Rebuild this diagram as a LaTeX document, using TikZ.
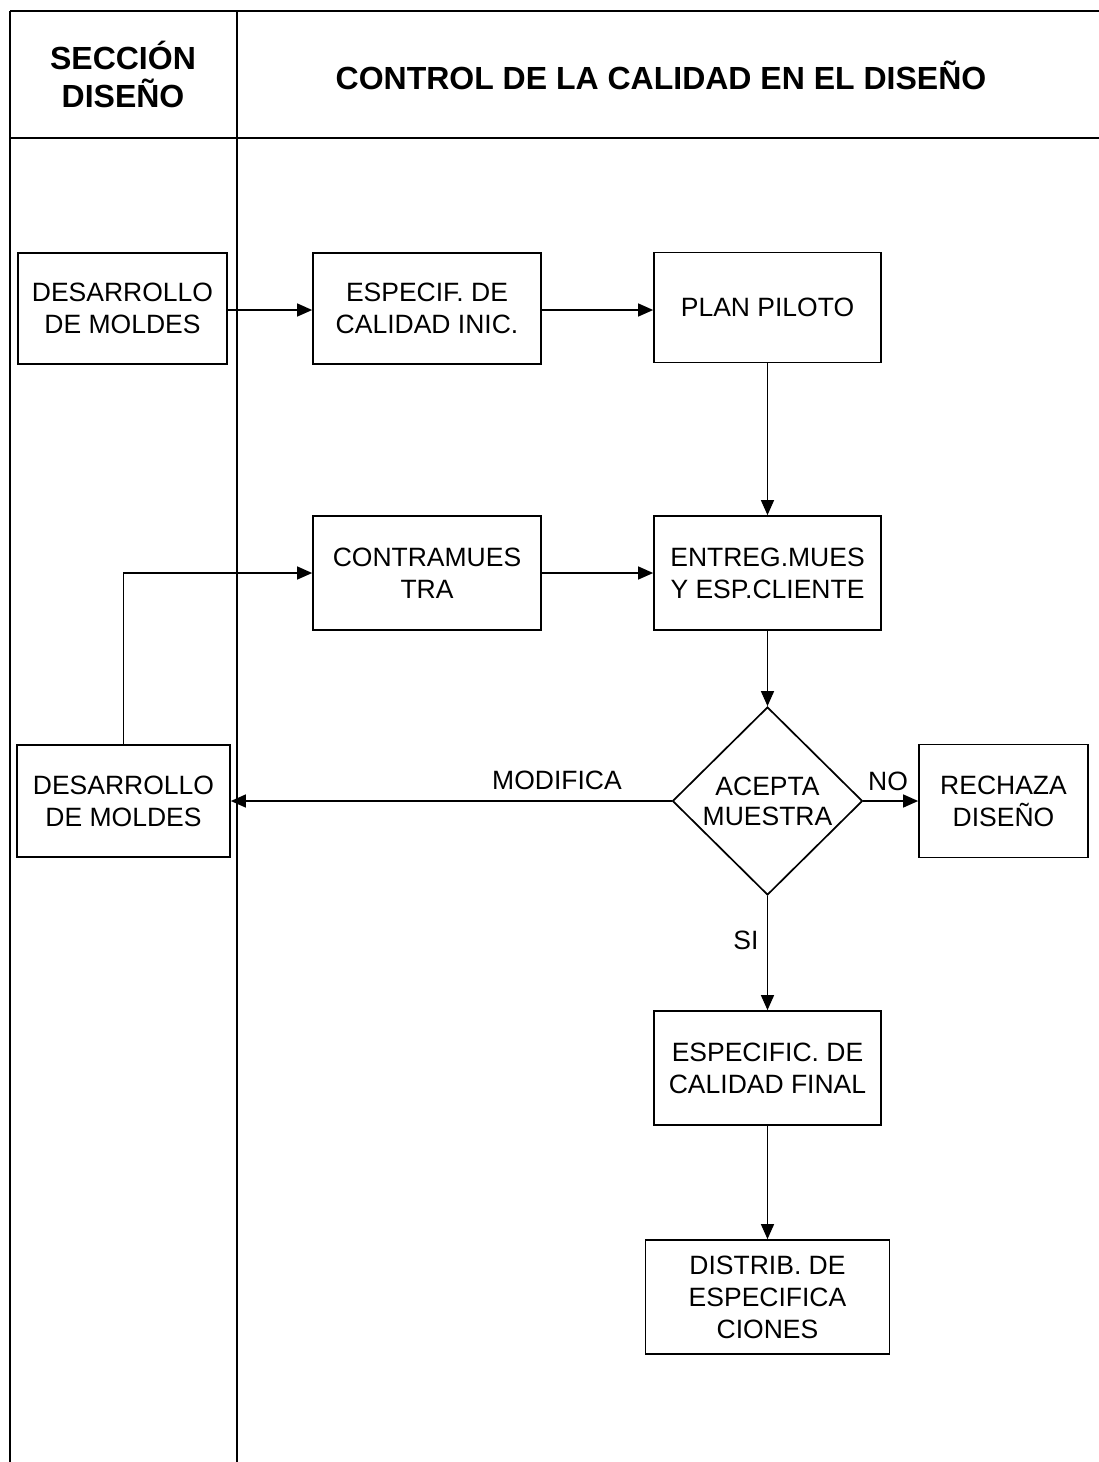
\documentclass[tikz,border=0pt]{standalone}
\usepackage{fontspec}
\setmainfont{Liberation Sans}
\usetikzlibrary{arrows.meta,shapes.geometric}

\begin{document}
\begin{tikzpicture}[x=1pt,y=-1pt,
  frame/.style={line width=1.4pt},
  procbox/.style={draw,line width=1.7pt,align=center,inner sep=0pt,
    font=\fontsize{26.5}{32}\selectfont},
  decision/.style={draw,diamond,line width=1.7pt,align=center,inner sep=0pt,
    minimum width=190pt,minimum height=188pt,font=\fontsize{26.5}{30}\selectfont},
  arr/.style={line width=1.3pt,-{Triangle[length=15pt,width=13pt]}},
  flowlabel/.style={font=\fontsize{26.5}{32}\selectfont,inner sep=0pt},
  headtext/.style={font=\bfseries\fontsize{32}{38}\selectfont,align=center,inner sep=0pt}]

\useasboundingbox (0,0) rectangle (1099,1462);

% frame of the two swimlanes
\coordinate (tl) at (10,11);
\coordinate (tr) at (1099,11);
\coordinate (bl) at (10,1462);
\coordinate (dt) at (237,11);
\coordinate (db) at (237,1462);
\coordinate (hl) at (10,138);
\coordinate (hr) at (1099,138);
\draw[frame] (tl) -- (tr);
\draw[frame] (tl) -- (bl);
\draw[frame] (dt) -- (db);
\draw[frame] (hl) -- (hr);

% headers
\node[headtext] (h1) at (123,74) {SECCIÓN\\DISEÑO};
\node[headtext] (h2) at (661,75) {CONTROL DE LA CALIDAD EN EL DISEÑO};

% process boxes
\node[procbox,minimum width=209pt,minimum height=111pt] (d1) at (122.5,308.5) {DESARROLLO\\DE MOLDES};
\node[procbox,minimum width=228pt,minimum height=111pt] (e1) at (427,308.5) {ESPECIF. DE\\CALIDAD INIC.};
\node[procbox,minimum width=227pt,minimum height=110pt] (pp) at (767.5,307.5) {PLAN PILOTO};
\node[procbox,minimum width=228pt,minimum height=114pt] (cm) at (427,573) {CONTRAMUES\\TRA};
\node[procbox,minimum width=227pt,minimum height=114pt] (em) at (767.5,573) {ENTREG.MUES\\Y ESP.CLIENTE};
\node[decision] (ac) at (767.5,801) {ACEPTA\\MUESTRA};
\node[procbox,minimum width=169pt,minimum height=113pt] (rd) at (1003.5,801) {RECHAZA\\DISEÑO};
\node[procbox,minimum width=213pt,minimum height=112pt] (d2) at (123.5,801) {DESARROLLO\\DE MOLDES};
\node[procbox,minimum width=227pt,minimum height=114pt] (ef) at (767.5,1068) {ESPECIFIC. DE\\CALIDAD FINAL};
\node[procbox,minimum width=244pt,minimum height=114pt] (ds) at (767.5,1297) {DISTRIB. DE\\ESPECIFICA\\CIONES};

% connectors
\draw[arr] (d1.east |- 0,310) -- (e1.west |- 0,310);
\draw[arr] (e1.east |- 0,310) -- (pp.west |- 0,310);
\draw[arr] (pp.south) -- (em.north);
\draw[arr] (cm.east) -- (em.west);
\draw[arr] (em.south) -- (ac.north);
\draw[arr] (ac.west) -- (d2.east);
\draw[arr] (ac.east) -- (rd.west);
\draw[arr] (ac.south) -- (ef.north);
\draw[arr] (ef.south) -- (ds.north);
\draw[arr] (d2.north) |- (cm.west);

% branch labels
\node[flowlabel] (lmod) at (557,780) {MODIFICA};
\node[flowlabel] (lno) at (888,781) {NO};
\node[flowlabel] (lsi) at (746,940) {SI};

\end{tikzpicture}
\end{document}
